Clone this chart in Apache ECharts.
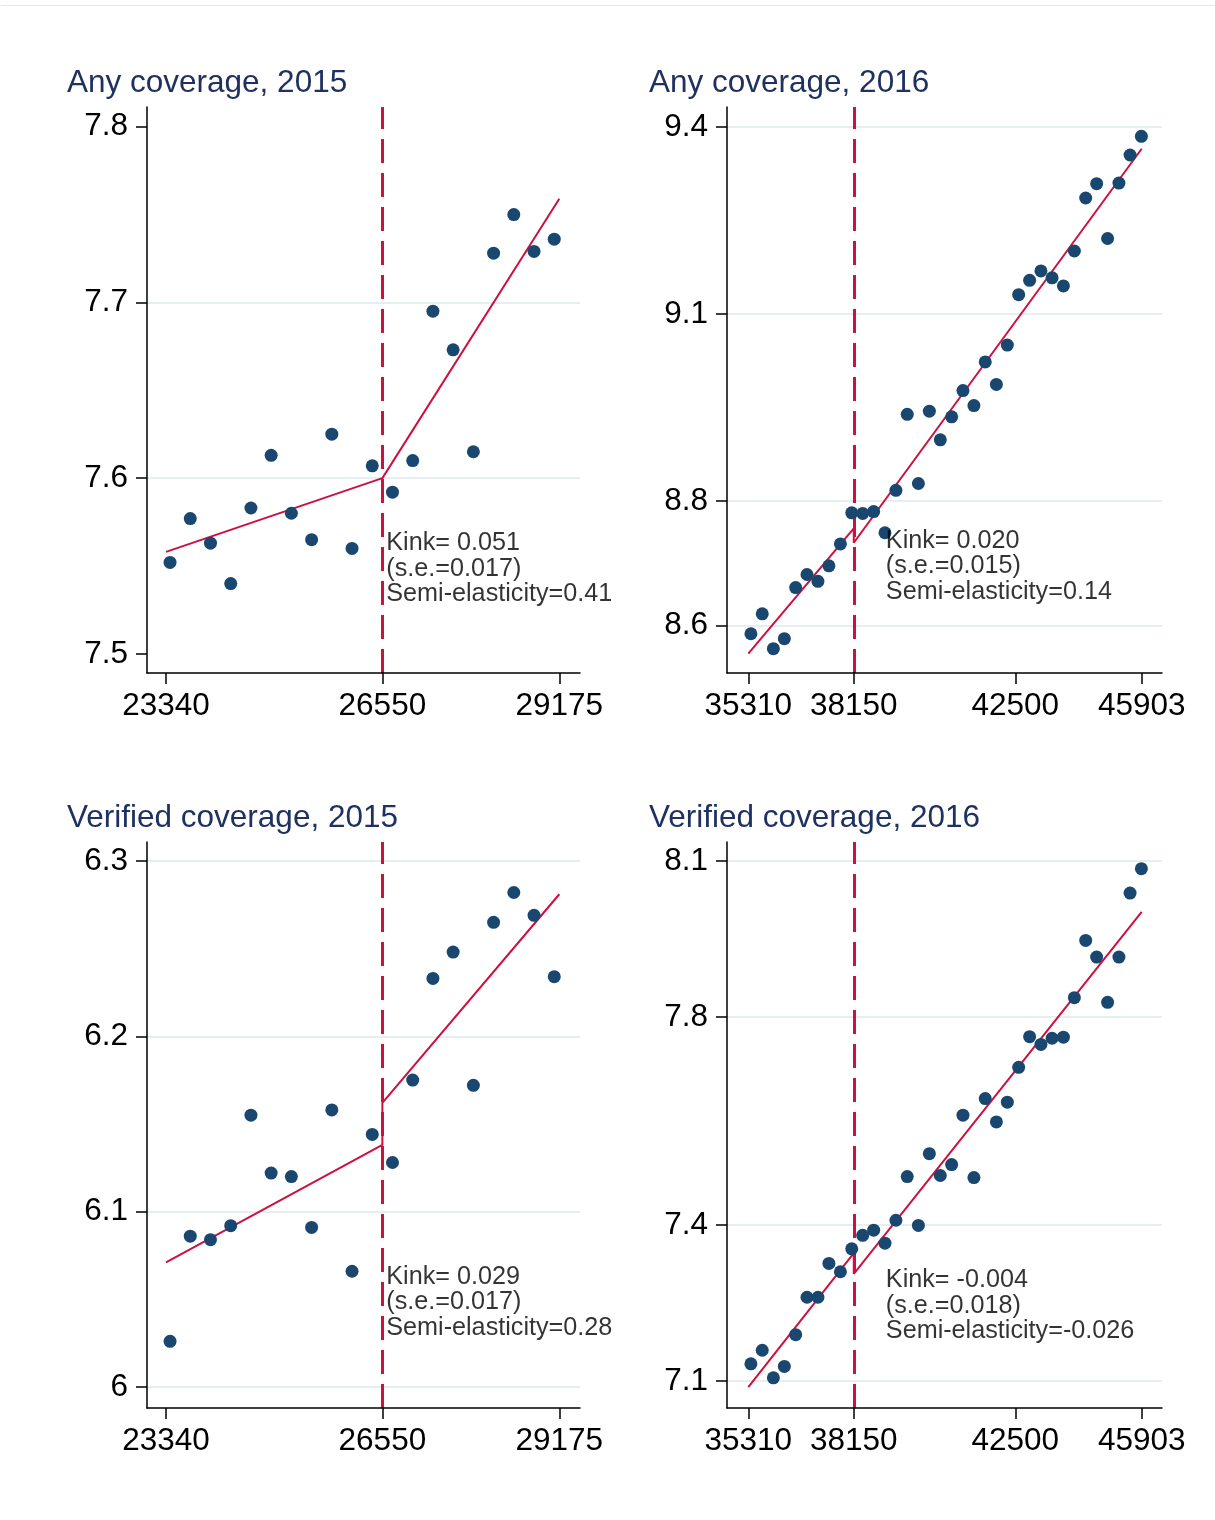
<!DOCTYPE html>
<html>
<head>
<meta charset="utf-8">
<title>Coverage kinks</title>
<script src="https://cdn.jsdelivr.net/npm/echarts@6.0.0/dist/echarts.min.js"></script>
<style>
  html, body { margin: 0; padding: 0; background: #fff; }
  #chart { width: 1215px; height: 1520px; }
</style>
</head>
<body>
<div id="chart"></div>
<script>
// bins (income) for each year
const xBins15 = [23400, 23700, 24000, 24300, 24600, 24900, 25200, 25500, 25800, 26100,
  26400, 26700, 27000, 27300, 27600, 27900, 28200, 28500, 28800, 29100];
const xBins16 = [35380, 35685, 35985, 36280, 36585, 36890, 37185, 37480, 37790, 38095,
  38390, 38685, 38990, 39285, 39590, 39890, 40185, 40480, 40785, 41090,
  41385, 41690, 41990, 42285, 42590, 42885, 43190, 43490, 43795, 44090,
  44395, 44690, 44985, 45290, 45590, 45895];

const anyCov15 = [7.552, 7.577, 7.563, 7.540, 7.583, 7.613, 7.580, 7.565, 7.625, 7.560,
  7.607, 7.592, 7.610, 7.695, 7.673, 7.615, 7.728, 7.750, 7.729, 7.736];
const verCov15 = [6.026, 6.086, 6.084, 6.092, 6.155, 6.122, 6.120, 6.091, 6.158, 6.066,
  6.144, 6.128, 6.175, 6.233, 6.248, 6.172, 6.265, 6.282, 6.269, 6.234];
const anyCov16 = [8.587, 8.619, 8.563, 8.579, 8.661, 8.682, 8.671, 8.696, 8.731, 8.781,
  8.780, 8.783, 8.749, 8.817, 8.939, 8.828, 8.944, 8.898, 8.935, 8.977,
  8.953, 9.023, 8.987, 9.050, 9.131, 9.154, 9.169, 9.158, 9.145, 9.201,
  9.286, 9.309, 9.221, 9.310, 9.355, 9.385];
const verCov16 = [7.133, 7.159, 7.106, 7.128, 7.189, 7.261, 7.261, 7.326, 7.310, 7.354,
  7.380, 7.390, 7.365, 7.409, 7.493, 7.399, 7.537, 7.495, 7.516, 7.611,
  7.491, 7.643, 7.598, 7.636, 7.703, 7.762, 7.747, 7.759, 7.761, 7.837,
  7.947, 7.915, 7.828, 7.915, 8.038, 8.085];

// fitted lines (left piece, then right piece)
const fitAny15 = [[23340, 7.558], [26550, 7.600], [29175, 7.759]];
const fitVer15 = [[23340, 6.071], [26550, 6.138], [26550, 6.162], [29175, 6.281]];
const fitAny16 = [[35310, 8.555], [38150, 8.756], [38150, 8.733], [45903, 9.365]];
const fitVer16 = [[35310, 7.088], [38150, 7.346], [38150, 7.306], [45903, 8.002]];

const cutoff15 = 26550;
const cutoff16 = 38150;

const xTicks15 = [23340, 26550, 29175];
const xTicks16 = [35310, 38150, 42500, 45903];
const yTicksAny15 = [7.5, 7.6, 7.7, 7.8];
const yTicksVer15 = [6, 6.1, 6.2, 6.3];
const yTicksAny16 = [8.6, 8.8, 9.1, 9.4];
const yTicksVer16 = [7.1, 7.4, 7.8, 8.1];
const yGridAny15 = [7.6, 7.7];

const titles = ['Any coverage, 2015', 'Any coverage, 2016', 'Verified coverage, 2015', 'Verified coverage, 2016'];

const noteAny15 = ['Kink= 0.051', '(s.e.=0.017)', 'Semi-elasticity=0.41'];
const noteAny16 = ['Kink= 0.020', '(s.e.=0.015)', 'Semi-elasticity=0.14'];
const noteVer15 = ['Kink= 0.029', '(s.e.=0.017)', 'Semi-elasticity=0.28'];
const noteVer16 = ['Kink= -0.004', '(s.e.=0.018)', 'Semi-elasticity=-0.026'];
const noteAtAny15 = [26600, 7.55];
const noteAtAny16 = [39000, 8.7];
const noteAtVer15 = [26600, 6.05];
const noteAtVer16 = [39000, 7.25];

const FONT = "'Liberation Sans', Arial, Helvetica, sans-serif";
const DOT = '#1a476f';
const RED = '#cc1040';
const GRID_LINE = '#e6eef0';
const TITLE = '#1f3160';

const panels = [
  {title: titles[0], x: xBins15, y: anyCov15, fit: fitAny15, cut: cutoff15, xTicks: xTicks15, yTicks: yTicksAny15, gridAt: yGridAny15, note: noteAny15, noteAt: noteAtAny15,
    left: 147, top: 107, width: 433, height: 566, xMin: 23058, xMax: 29482, yMin: 7.4891, yMax: 7.8112, titleLeft: 67, titleTop: 67},
  {title: titles[1], x: xBins16, y: anyCov16, fit: fitAny16, cut: cutoff16, xTicks: xTicks16, yTicks: yTicksAny16, gridAt: yTicksAny16, note: noteAny16, noteAt: noteAtAny16,
    left: 727, top: 107, width: 435, height: 566, xMin: 34736, xMax: 46450, yMin: 8.524, yMax: 9.432, titleLeft: 649, titleTop: 67},
  {title: titles[2], x: xBins15, y: verCov15, fit: fitVer15, cut: cutoff15, xTicks: xTicks15, yTicks: yTicksVer15, gridAt: yTicksVer15, note: noteVer15, noteAt: noteAtVer15,
    left: 147, top: 842, width: 433, height: 566, xMin: 23058, xMax: 29482, yMin: 5.988, yMax: 6.3108, titleLeft: 67, titleTop: 802},
  {title: titles[3], x: xBins16, y: verCov16, fit: fitVer16, cut: cutoff16, xTicks: xTicks16, yTicks: yTicksVer16, gridAt: yTicksVer16, note: noteVer16, noteAt: noteAtVer16,
    left: 727, top: 842, width: 435, height: 566, xMin: 34736, xMax: 46450, yMin: 7.048, yMax: 8.1363, titleLeft: 649, titleTop: 802},
];

const axisLine = {show: true, onZero: false, lineStyle: {color: '#000', width: 1.5}};

const option = {
  animation: false,
  backgroundColor: '#fff',
  textStyle: {fontFamily: FONT},
  title: panels.map(p => ({
    text: p.title, left: p.titleLeft, top: p.titleTop, padding: 0,
    textStyle: {fontSize: 31.5, fontWeight: 'normal', color: TITLE, fontFamily: FONT},
  })),
  grid: panels.map(p => ({
    left: p.left, top: p.top, width: p.width, height: p.height,
    containLabel: false, outerBoundsMode: 'none',
  })),
  xAxis: panels.map((p, i) => ({
    type: 'value', gridIndex: i, min: p.xMin, max: p.xMax, z: 5,
    axisLine: axisLine,
    axisTick: {show: true, inside: false, length: 11, customValues: p.xTicks, lineStyle: {color: '#000', width: 1.5}},
    axisLabel: {customValues: p.xTicks, formatter: v => String(v), margin: 17, fontSize: 31.5, color: '#000', fontFamily: FONT, hideOverlap: false},
    splitLine: {show: false},
  })),
  yAxis: panels.map((p, i) => ({
    type: 'value', gridIndex: i, min: p.yMin, max: p.yMax, z: 5,
    axisLine: axisLine,
    axisTick: {show: true, inside: false, length: 11, customValues: p.yTicks, lineStyle: {color: '#000', width: 1.5}},
    axisLabel: {customValues: p.yTicks, formatter: v => String(v), margin: 19, fontSize: 31.5, color: '#000', fontFamily: FONT, hideOverlap: false},
    splitLine: {show: false},
  })),
  graphic: [
    {type: 'line', shape: {x1: 1, y1: 5.5, x2: 1215, y2: 5.5}, style: {stroke: '#e3e8e9', lineWidth: 1}, silent: true},
  ],
  series: [],
};

panels.forEach((p, i) => {
  // gridlines + cutoff, kept under the marks
  option.series.push({
    type: 'line', xAxisIndex: i, yAxisIndex: i, data: [], z: 1, silent: true,
    markLine: {
      z: 1, silent: true, symbol: ['none', 'none'], label: {show: false}, animation: false,
      data: p.gridAt.map(v => ({yAxis: v, lineStyle: {color: GRID_LINE, width: 2, type: 'solid'}}))
        .concat([{xAxis: p.cut, lineStyle: {color: RED, width: 3, type: [24, 10]}}]),
    },
  });
  // fitted line
  option.series.push({
    type: 'line', xAxisIndex: i, yAxisIndex: i, data: p.fit, z: 2, silent: true,
    symbol: 'none', lineStyle: {color: RED, width: 2},
  });
  // binned means
  option.series.push({
    type: 'scatter', xAxisIndex: i, yAxisIndex: i, z: 3, silent: true,
    data: p.x.map((v, k) => [v, p.y[k]]),
    symbolSize: 13, itemStyle: {color: DOT, opacity: 1},
  });
  // kink note
  option.series.push({
    type: 'scatter', xAxisIndex: i, yAxisIndex: i, z: 4, silent: true,
    data: [p.noteAt], symbolSize: 1, itemStyle: {color: 'rgba(0,0,0,0)'},
    label: {
      show: true, position: 'right', distance: 0, align: 'left', offset: [0, 3],
      formatter: p.note.join('\n'), fontSize: 25.2, lineHeight: 25.5, color: '#000', fontFamily: FONT,
    },
  });
});

const chart = echarts.init(document.getElementById('chart'), null, {renderer: 'canvas', width: 1215, height: 1520});
chart.setOption(option);
</script>
</body>
</html>
